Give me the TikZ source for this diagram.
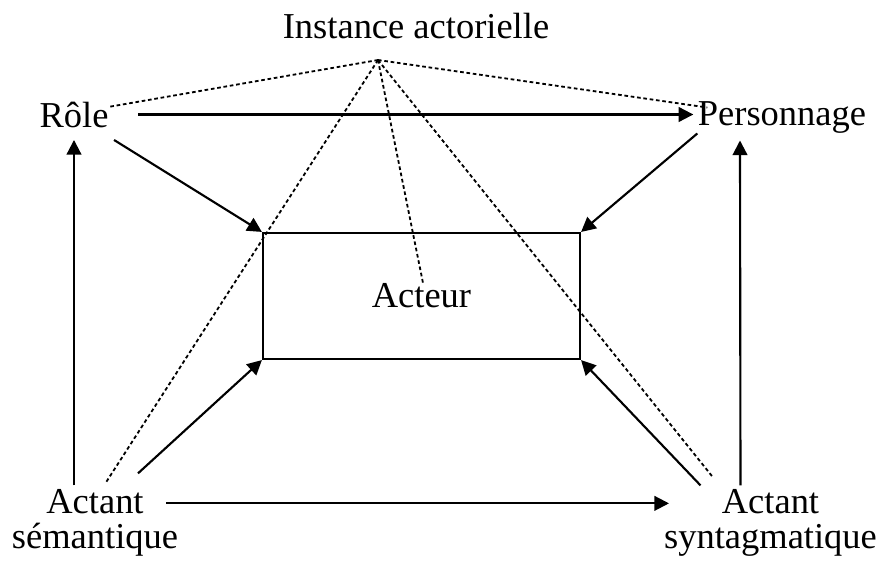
\documentclass[tikz,border=0pt]{standalone}
\usepackage{fontspec}
\setmainfont{Liberation Serif}
\usetikzlibrary{arrows.meta,calc}

\begin{document}
\begin{tikzpicture}[x=0.329pt,y=-0.329pt]
\tikzstyle{word}=[inner sep=0pt,font=\fontsize{12}{11.5}\selectfont,align=center]
\tikzstyle{box}=[draw,line width=0.7pt,minimum width=104.3pt,minimum height=41.45pt,inner sep=0pt,font=\fontsize{12}{14}\selectfont]
\tikzstyle{arr}=[draw,line width=0.7pt,-{Triangle[length=4.8pt,width=4.8pt]}]
\tikzstyle{link}=[draw,line width=0.6pt,dash pattern=on 1.2pt off 0.9pt]
\useasboundingbox (0,0) rectangle (883,561);
\node[word,anchor=base] (inst) at (416,38) {Instance actorielle};
\node[word,anchor=base] (role) at (74,127) {Rôle};
\node[word,anchor=base] (pers) at (782,125) {Personnage};
\node[box] (act) at (421.5,296) {Acteur};
\node[word,anchor=base] (sem) at (95,548) {Actant\\sémantique};
\node[word,anchor=base] (synt) at (770.5,548) {Actant\\syntagmatique};
\coordinate (apex) at ($(inst.base)+(-38,22)$);
% fleches
\path[arr] ($(role.east)+(29,0)$) -- ($(role.east -| pers.west)+(-4,0)$);
\path[arr] ($(role.south east)+(5,12)$) -- (act.north west);
\path[arr] (pers.south west) -- (act.north east);
\path[arr] ($(sem.north)+(43,-15)$) -- (act.south west);
\path[arr] ($(synt.north)+(-70,-3)$) -- (act.south east);
\path[arr] ($(sem.north -| role.south)+(0,-3)$) -- ($(role.south)+(0,12)$);
\path[arr] ($(synt.north)+(-30,-3)$) -- ($(pers.south)+(-42,7)$);
\path[arr] ($(sem.north)+(71,15)$) -- ($(synt.north)+(-101.5,15)$);
% instance actorielle
\path[link] (apex) -- ($(role.east)+(-1,-7.5)$);
\path[link] (apex) -- ($(pers.west)+(10,-9.5)$);
\path[link] (apex) -- ($(act.center)+(1.5,-13)$);
\path[link] (apex) -- ($(sem.north)+(11,-6)$);
\path[link] (apex) -- ($(synt.north)+(-57.5,-11)$);
\end{tikzpicture}
\end{document}
